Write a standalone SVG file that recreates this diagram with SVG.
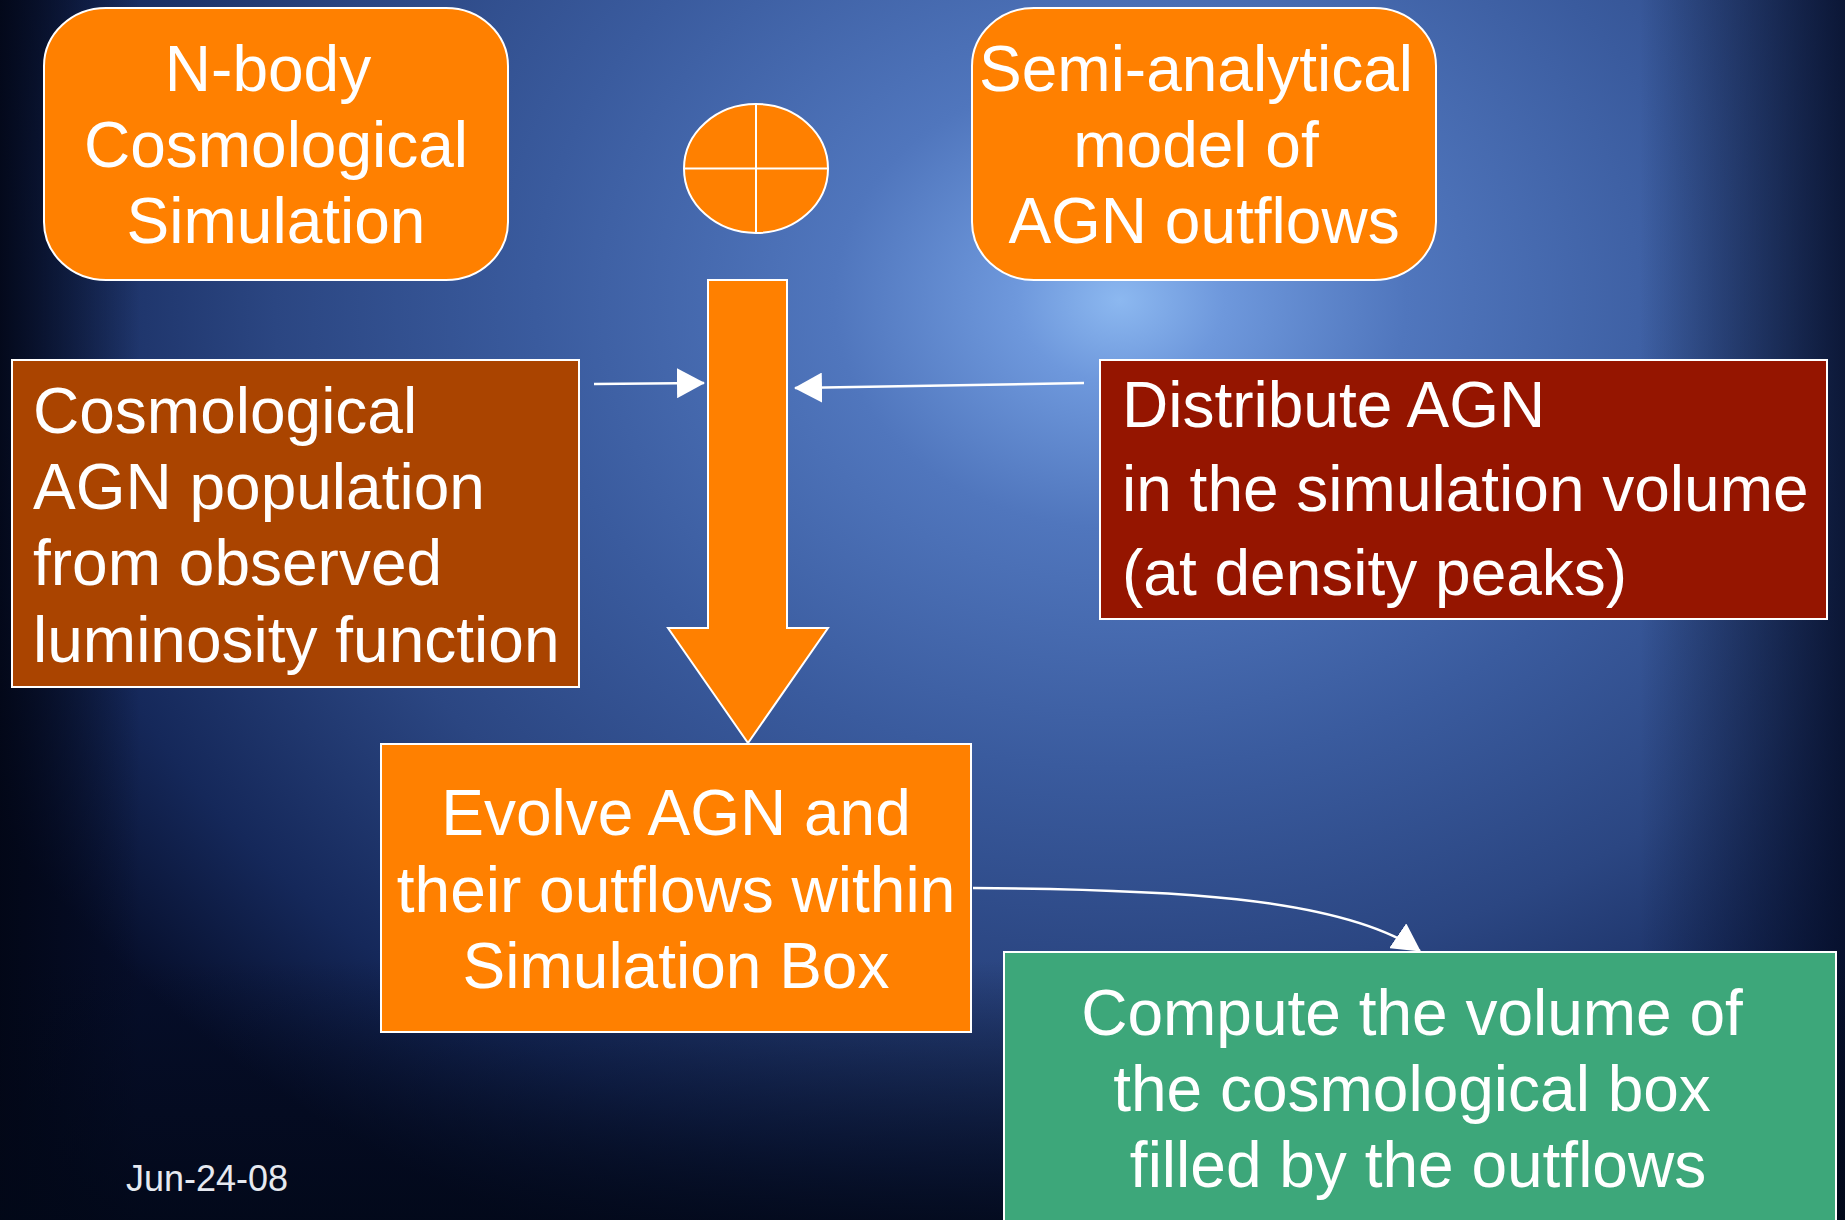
<svg xmlns="http://www.w3.org/2000/svg" width="1845" height="1220" viewBox="0 0 1845 1220">
<defs>
<radialGradient id="bg" gradientUnits="userSpaceOnUse" cx="1120" cy="300" r="1300" gradientTransform="translate(1120 300) scale(1 0.8) translate(-1120 -300)">
<stop offset="0" stop-color="#8cb8f0"/>
<stop offset="0.08" stop-color="#6e98dc"/>
<stop offset="0.22" stop-color="#5076bd"/>
<stop offset="0.45" stop-color="#3a5b9e"/>
<stop offset="0.65" stop-color="#2b4682"/>
<stop offset="0.85" stop-color="#15285a"/>
<stop offset="1" stop-color="#060e2a"/>
</radialGradient>
<linearGradient id="leftShade" x1="0" y1="0" x2="1" y2="0">
<stop offset="0" stop-color="#020615" stop-opacity="0.9"/>
<stop offset="1" stop-color="#020615" stop-opacity="0"/>
</linearGradient>
<linearGradient id="rightShade" x1="1" y1="0" x2="0" y2="0">
<stop offset="0" stop-color="#030a22" stop-opacity="0.8"/>
<stop offset="1" stop-color="#030a22" stop-opacity="0"/>
</linearGradient>
<linearGradient id="bottomShade" x1="0" y1="1" x2="0" y2="0">
<stop offset="0" stop-color="#020818" stop-opacity="0.85"/>
<stop offset="1" stop-color="#020818" stop-opacity="0"/>
</linearGradient>
<marker id="ah" viewBox="0 0 28 30" refX="27" refY="15" markerWidth="28" markerHeight="30" markerUnits="userSpaceOnUse" orient="auto">
<path d="M0,0 L28,15 L0,30 z" fill="#ffffff"/>
</marker>
<style>
.lbl{font-family:"Liberation Sans",Arial,sans-serif;font-size:64px;fill:#ffffff}
.mid{text-anchor:middle}
.orange{fill:#ff8000;stroke:#ffffff;stroke-width:2}
.conn{fill:none;stroke:#ffffff;stroke-width:2.5}
.date{font-family:"Liberation Sans",Arial,sans-serif;font-size:36px;fill:#e6e9f0}
</style>
</defs>
<g id="background">
<rect x="0" y="0" width="1845" height="1220" fill="url(#bg)"/>
<rect x="0" y="0" width="140" height="1220" fill="url(#leftShade)"/>
<rect x="1640" y="0" width="205" height="1220" fill="url(#rightShade)"/>
<rect x="0" y="960" width="1845" height="260" fill="url(#bottomShade)"/>
</g>
<g id="nbody">
<rect class="orange" x="44" y="8" width="464" height="272" rx="62" ry="58"/>
<text class="lbl mid" x="268" y="91">N-body</text>
<text class="lbl mid" x="276" y="167">Cosmological</text>
<text class="lbl mid" x="276" y="243">Simulation</text>
</g>
<g id="combine">
<ellipse class="orange" cx="756" cy="168.5" rx="72" ry="64.5"/>
<line x1="756" y1="104" x2="756" y2="233" stroke="#ffffff" stroke-width="2"/>
<line x1="684" y1="168.5" x2="828" y2="168.5" stroke="#ffffff" stroke-width="2"/>
</g>
<g id="semianalytical">
<rect class="orange" x="972" y="8" width="464" height="272" rx="62" ry="58"/>
<text class="lbl mid" x="1196" y="91">Semi-analytical</text>
<text class="lbl mid" x="1196" y="167">model of</text>
<text class="lbl mid" x="1204" y="243">AGN outflows</text>
</g>
<g id="bigarrow">
<polygon class="orange" points="708,280 787,280 787,628 828,628 748,743 668,628 708,628"/>
</g>
<g id="population">
<rect x="12" y="360" width="567" height="327" fill="#aa4400" stroke="#ffffff" stroke-width="2"/>
<text class="lbl" x="33" y="433">Cosmological</text>
<text class="lbl" x="33" y="509">AGN population</text>
<text class="lbl" x="33" y="585">from observed</text>
<text class="lbl" x="33" y="662">luminosity function</text>
</g>
<g id="distribute">
<rect x="1100" y="360" width="727" height="259" fill="#951500" stroke="#ffffff" stroke-width="2"/>
<text class="lbl" x="1122" y="427">Distribute AGN</text>
<text class="lbl" x="1122" y="511">in the simulation volume</text>
<text class="lbl" x="1122" y="595">(at density peaks)</text>
</g>
<g id="evolve">
<rect class="orange" x="381" y="744" width="590" height="288"/>
<text class="lbl mid" x="676" y="835">Evolve AGN and</text>
<text class="lbl mid" x="676" y="912">their outflows within</text>
<text class="lbl mid" x="676" y="988">Simulation Box</text>
</g>
<g id="compute">
<rect x="1004" y="952" width="832" height="290" fill="#3da77a" stroke="#ffffff" stroke-width="2"/>
<text class="lbl mid" x="1412" y="1035">Compute the volume of</text>
<text class="lbl mid" x="1412" y="1111">the cosmological box</text>
<text class="lbl mid" x="1418" y="1187">filled by the outflows</text>
</g>
<g id="connectors">
<path class="conn" d="M594,384 L704,383" marker-end="url(#ah)"/>
<path class="conn" d="M1084,383 L795,388" marker-end="url(#ah)"/>
<path class="conn" d="M973,888 C1160,889 1340,896 1420,951" marker-end="url(#ah)"/>
</g>
<g id="date">
<text class="date" x="126" y="1191">Jun-24-08</text>
</g>
</svg>
